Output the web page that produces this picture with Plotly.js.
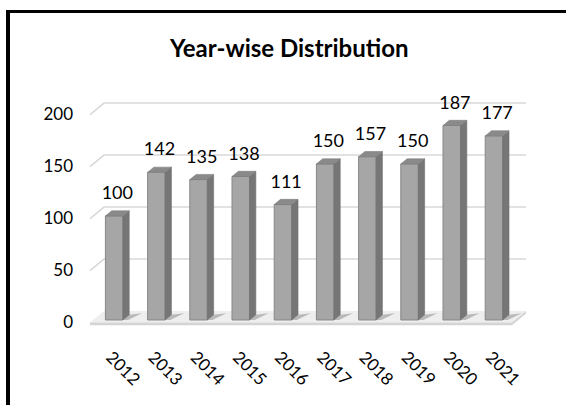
<!DOCTYPE html>
<html>
<head>
<meta charset="utf-8">
<script src="https://cdn.plot.ly/plotly-3.0.1.min.js"></script>
<style>
  html, body { margin: 0; padding: 0; background: #fff; }
  #wrap { position: relative; width: 566px; height: 405px; overflow: hidden; }
  #chart { position: absolute; left: 0; top: 0; width: 566px; height: 405px; }
  #frame { position: absolute; left: 6px; top: 10px; width: 700px; height: 600px;
           border-top: 3px solid #000; border-left: 4px solid #000; pointer-events: none; }
</style>
</head>
<body>
<div id="wrap"><div id="chart"></div><div id="frame"></div></div>
<script>
// Yearly counts
const years  = ['2012', '2013', '2014', '2015', '2016', '2017', '2018', '2019', '2020', '2021'];
const counts = [100, 142, 135, 138, 111, 150, 157, 150, 187, 177];
const yTicks = [0, 50, 100, 150, 200];

// Pseudo-3D geometry: a full step in depth shifts right by DX (category units)
// and up by DY (value units). Bars occupy depth D1..D2.
const DX = 0.332, DY = 11.06;
const D1 = 0.22, D2 = 0.67;
const BW = 0.415;
const xL = -0.5, xR = years.length - 0.5;
const idx = years.map((_, i) => i);

// Floor, floor edge and back-wall gridlines as shapes beneath the bars
const shapes = [];
const P = (x, y) => x + ',' + y;
shapes.push({ type: 'path', xref: 'x', yref: 'y', layer: 'below', line: { width: 0 },
  fillcolor: '#eeeeee',
  path: 'M' + P(xL, 0) + ' L' + P(xL + DX, DY) + ' L' + P(xR + DX, DY) + ' L' + P(xR, 0) + ' Z' });
shapes.push({ type: 'path', xref: 'x', yref: 'y', layer: 'below', line: { width: 0 },
  fillcolor: '#d4d4d4',
  path: 'M' + P(xL, 0) + ' L' + P(xR, 0) + ' L' + P(xR + DX, DY) + ' L' + P(xR + DX, DY - 2.6) +
        ' L' + P(xR, -2.6) + ' L' + P(xL, -2.6) + ' Z' });
yTicks.filter(t => t > 0).forEach(t => {
  shapes.push({ type: 'path', xref: 'x', yref: 'y', layer: 'below',
    line: { color: '#d9d9d9', width: 1.6 },
    path: 'M' + P(xL, t) + ' L' + P(xL + DX, t + DY) + ' L' + P(xR + DX, t + DY) });
});
// Soft shadows cast on the floor to the right of each bar
idx.forEach(i => {
  const xr = i + BW / 2;
  shapes.push({ type: 'path', xref: 'x', yref: 'y', layer: 'below', line: { width: 0 },
    fillcolor: 'rgba(120,120,120,0.45)',
    path: 'M' + P(xr + D1 * DX, D1 * DY) + ' L' + P(xr + D2 * DX, D2 * DY) +
          ' L' + P(xr + D2 * DX + 0.3, D2 * DY + 1.5) + ' L' + P(xr + D1 * DX + 0.12, D1 * DY) + ' Z' });
});

// Front faces
const frontFaces = {
  type: 'bar', x: idx.map(i => i + D1 * DX), y: counts, base: counts.map(() => D1 * DY),
  width: BW, marker: { color: '#a6a6a6', line: { color: '#878787', width: 1 } },
  hoverinfo: 'skip', showlegend: false
};

// Side and top faces as filled polygons
const sx = [], sy = [], tx = [], ty = [];
idx.forEach((i, k) => {
  const v = counts[k], xl = i - BW / 2, xr = i + BW / 2;
  sx.push(xr + D1 * DX, xr + D2 * DX, xr + D2 * DX, xr + D1 * DX, xr + D1 * DX, null);
  sy.push(D1 * DY, D2 * DY, v + D2 * DY, v + D1 * DY, D1 * DY, null);
  tx.push(xl + D1 * DX, xl + D2 * DX, xr + D2 * DX, xr + D1 * DX, xl + D1 * DX, null);
  ty.push(v + D1 * DY, v + D2 * DY, v + D2 * DY, v + D1 * DY, v + D1 * DY, null);
});
const sideFaces = { type: 'scatter', mode: 'lines', x: sx, y: sy, fill: 'toself',
  fillcolor: '#767676', line: { color: '#6e6e6e', width: 0.6 }, hoverinfo: 'skip', showlegend: false };
const topFaces = { type: 'scatter', mode: 'lines', x: tx, y: ty, fill: 'toself',
  fillcolor: '#8a8a8a', line: { color: '#7e7e7e', width: 0.6 }, hoverinfo: 'skip', showlegend: false };

// Value labels above each bar
const valueLabels = {
  type: 'scatter', mode: 'text',
  x: idx.map(i => i + (D1 + D2) / 2 * DX), y: counts.map(v => v + D2 * DY + 7),
  text: counts.map(String), textposition: 'top center',
  textfont: { family: 'Lato, sans-serif', size: 18, color: '#000' },
  hoverinfo: 'skip', showlegend: false, cliponaxis: false
};

const layout = {
  width: 566, height: 405,
  margin: { l: 78, r: 26, t: 83, b: 62 },
  paper_bgcolor: '#fff', plot_bgcolor: 'rgba(0,0,0,0)',
  showlegend: false,
  title: { text: '<b>Year-wise Distribution</b>', xref: 'container', yref: 'container',
           x: 0.511, y: 0.879, xanchor: 'center', yanchor: 'middle',
           font: { family: 'Lato, sans-serif', size: 24, color: '#000' } },
  xaxis: { range: [-0.784, 10.164], tickvals: idx, ticktext: years, tickangle: 45,
           showgrid: false, zeroline: false, showline: false, ticks: '',
           tickfont: { family: 'Lato, sans-serif', size: 17, color: '#000' }, fixedrange: true },
  yaxis: { range: [-19.7, 230.3], tickvals: yTicks, ticktext: yTicks.map(String),
           showgrid: false, zeroline: false, showline: false, ticks: '', ticklabelstandoff: 4,
           tickfont: { family: 'Lato, sans-serif', size: 17, color: '#000' }, fixedrange: true },
  shapes: shapes
};

Plotly.newPlot('chart', [frontFaces, sideFaces, topFaces, valueLabels], layout,
               { staticPlot: true, displayModeBar: false });
</script>
</body>
</html>
